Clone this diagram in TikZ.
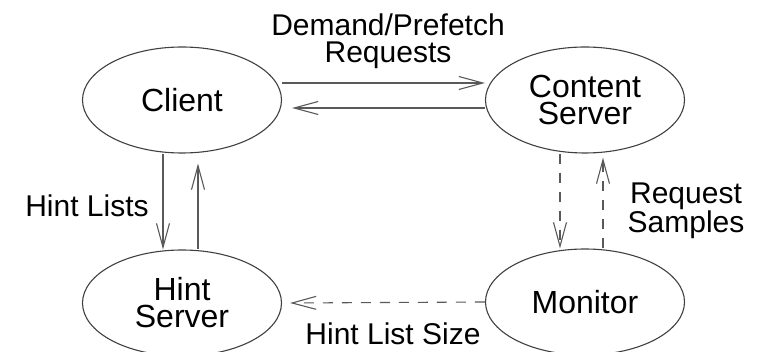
\documentclass[tikz,border=0pt]{standalone}
\usepackage{fontspec}
\setmainfont{Liberation Sans}
\usetikzlibrary{shapes.geometric, arrows.meta}

\begin{document}
\begin{tikzpicture}[x=1pt, y=-1pt]

\useasboundingbox (0,0) rectangle (761,352);

% Define block styles
\tikzstyle{entity} = [ellipse, draw=black!75, line width=1.1pt, minimum width=199pt, minimum height=106pt, inner sep=0pt, align=center, font=\fontsize{32}{27}\selectfont]
\tikzstyle{note} = [inner sep=0pt, align=center, font=\fontsize{30}{27}\selectfont]
\tikzstyle{arrow} = [line width=1.1pt, draw=black!65, -{Straight Barb[length=24pt, width=13pt]}]
\tikzstyle{dasharrow} = [arrow, dash pattern=on 10pt off 9pt]

% Nodes
\node (client) [entity] at (182,100) {Client};
\node (content) [entity] at (585,100) {Content\\Server};
\node (hint) [entity] at (182,303) {Hint\\Server};
\node (monitor) [entity] at (585,302) {Monitor};

% Labels
\node (demandlbl) [note] at (388,41) {Demand/Prefetch\\Requests};
\node (hintlistslbl) [note] at (87,206) {Hint Lists};
\node (sampleslbl) [note] at (686,211) {Request\\Samples};
\node (sizelbl) [note] at (393,334) {Hint List Size};

% Arrows
\draw [arrow] ([yshift=17]client.east) -- ([yshift=17]content.west);
\draw [arrow] ([yshift=-8]content.west) -- ([xshift=10,yshift=-8]client.east);
\draw [arrow] ([xshift=-19]client.south) -- ([xshift=-19]hint.north);
\draw [arrow] ([xshift=16]hint.north) -- ([xshift=16,yshift=-10]client.south);

% Monitor links
\draw [dasharrow] ([xshift=-25]content.south) -- ([xshift=-25]monitor.north);
\draw [dasharrow] ([xshift=18]monitor.north) -- ([xshift=18,yshift=-4]content.south);
\draw [dasharrow] (monitor.west) -- ([xshift=8]hint.east);

\end{tikzpicture}
\end{document}
